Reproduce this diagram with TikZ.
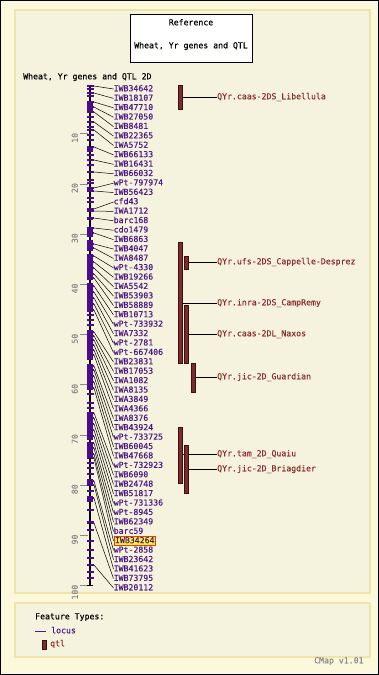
\documentclass[tikz,border=0pt]{standalone}
\usepackage{fontspec}
\setmonofont[FakeBold=0.35]{DejaVu Sans Mono}
\definecolor{outerbg}{HTML}{FBF8DC}
\definecolor{panelbg}{HTML}{F5F3DE}
\definecolor{panelline}{HTML}{EEE6A8}
\definecolor{locuscol}{HTML}{4B1A86}
\definecolor{blockcol}{HTML}{4B0C8C}
\definecolor{qtltext}{HTML}{8B2E2E}
\definecolor{qtlfill}{HTML}{7B2C2C}
\definecolor{qtlline}{HTML}{3A1010}
\definecolor{scalecol}{HTML}{8A8A8A}
\definecolor{hlfill}{HTML}{FFF23A}
\definecolor{hlline}{HTML}{E04010}
\begin{document}
\begin{tikzpicture}[x=1pt,y=-1pt,
  txt/.style={font=\ttfamily\fontsize{8.2}{9}\selectfont, inner sep=0pt, text height=6pt, text depth=1.5pt},
  loclabel/.style={txt, text=locuscol, anchor=west},
  qtllabel/.style={txt, text=qtltext, anchor=west},
  qtlbar/.style={draw=qtlline, fill=qtlfill, line width=0.6pt, minimum width=3.6pt, inner sep=0pt, rectangle},
  conn/.style={black, line width=0.5pt},
  qconn/.style={black, line width=0.8pt},
  panel/.style={fill=panelbg, draw=panelline, line width=1.3pt},
  scaletick/.style={scalecol, line width=0.7pt},
  scalelab/.style={txt, text=scalecol, rotate=90, anchor=east},
  locmark/.style={fill=blockcol},
  lab49/.style={fill=hlfill, draw=hlline, line width=0.6pt, inner xsep=1.2pt, inner ysep=0.8pt},
]
\useasboundingbox (0,0) rectangle (379,675);
\fill[outerbg] (0,0) rectangle (379,675);
\draw[black, line width=1pt] (0.5,0.5) rectangle (378.5,674.5);

% panels
\draw[panel] (15,10) rectangle (370,593);
\draw[panel] (15,603) rectangle (370,657);

% title box
\node[draw=black, fill=white, line width=0.8pt, minimum width=122pt, minimum height=48pt, inner sep=0pt] (title) at (191,38) {};
\node[txt] (ttl1) at (191,23) {Reference};
\node[txt] (ttl2) at (191,46) {Wheat, Yr genes and QTL};

\node[txt, anchor=west] (maptitle) at (23,77) {Wheat, Yr genes and QTL 2D};

% scale
\foreach \c in {10,20,...,100} {
  \pgfmathsetmacro\yy{83.5+5.02*\c}
  \draw[scaletick] (80,\yy) -- (88,\yy);
  \node[scalelab] (s\c) at (75.5,\yy-1) {\c};
}

% connectors and labels
\foreach \i/\ly/\name in {1/86/IWB34642, 2/93/IWB18107, 3/102/IWB47710, 4/107/IWB27050,
  5/112/IWB8481, 6/122/IWB22365, 7/130/IWA5752, 8/147/IWB66133, 9/160/IWB16431,
  10/172/IWB66032, 11/188/wPt-797974, 12/191/IWB56423, 13/209/cfd43, 14/211/IWA1712,
  15/218/barc168, 16/228/cdo1479, 17/233/IWB6863, 18/244/IWB4047, 19/248/IWA8487,
  20/256/wPt-4330, 21/262/IWB19266, 22/268/IWA5542, 23/274/IWB53903, 24/278/IWB58889,
  25/286/IWB10713, 26/292/wPt-733932, 27/298/IWA7332, 28/304/wPt-2781, 29/310/wPt-667406,
  30/332/IWB23831, 31/336/IWB17053, 32/340/IWA1082, 33/345/IWA8135, 34/350/IWA3849,
  35/355/IWA4366, 36/366/IWA8376, 37/370/IWB43924, 38/376/wPt-733725, 39/382/IWB60045,
  40/388/IWB47668, 41/413/wPt-732923, 42/418/IWB6090, 43/424/IWB24748, 44/430/IWB51817,
  45/436/wPt-731336, 46/443/wPt-8945, 47/448/IWB62349, 48/454/barc59, 49/458/IWB34264,
  50/481/wPt-2858, 51/485/IWB23642, 52/498/IWB41623, 53/523/IWB73795, 54/565/IWB20112} {
  \pgfmathsetmacro\ty{89+9.415*(\i-1)}
  \coordinate (L\i) at (94,\ly);
  \node[loclabel, lab\i/.try] (T\i) at (113.5,\ty) {\name};
  \draw[conn] (L\i) -- (T\i.west);
  \fill[locmark] (86.5,\ly-0.9) rectangle (93.5,\ly+0.9);
}

% chromosome backbone
\draw[black, line width=2.2pt] (90,84.5) -- (90,585.5);
\draw[black, line width=0.8pt] (87,585.5) -- (93,585.5);

% dense locus blocks
\foreach \a/\b in {101/113, 147/152, 187/192, 208/212, 217/220, 227/237, 240/251,
  254/280, 283/312, 330/360, 364/390, 412/440, 442/458, 479/486, 496/502} {
  \fill[blockcol] (86.8,\a) rectangle (93.2,\b);
}
% individual locus ticks
\foreach \ly in {86, 89, 93, 96, 117, 122, 127, 130, 135, 140, 155, 160, 165, 172, 180, 183, 198, 202,
  315, 320, 325, 394, 403, 408, 463, 468, 474, 491, 510, 522, 530, 541, 550, 558, 565, 572, 578} {
  \fill[locmark] (86.5,\ly-0.9) rectangle (93.5,\ly+0.9);
}

% QTL bars
\node[qtlbar, minimum height=24pt] (Q1) at (180,97) {};
\node[qtlbar, minimum height=121pt] (Q3) at (180,302.5) {};
\node[qtlbar, minimum height=13pt] (Q2) at (186.5,262.5) {};
\node[qtlbar, minimum height=58pt] (Q4) at (186.5,334) {};
\node[qtlbar, minimum height=29pt] (Q5) at (193.5,377.5) {};
\node[qtlbar, minimum height=56pt] (Q6) at (180,455) {};

\node[qtllabel] (P1) at (217,97) {QYr.caas-2DS\_Libellula};
\node[qtllabel] (P2) at (217,262) {QYr.ufs-2DS\_Cappelle-Desprez};
\node[qtllabel] (P3) at (217,303) {QYr.inra-2DS\_CampRemy};
\node[qtllabel] (P4) at (217,334) {QYr.caas-2DL\_Naxos};
\node[qtllabel] (P5) at (217,377) {QYr.jic-2D\_Guardian};
\node[qtllabel] (P6) at (217,454) {QYr.tam\_2D\_Quaiu};
\node[qtllabel] (P7) at (217,469) {QYr.jic-2D\_Briagdier};

\draw[qconn] (Q1.east |- P1.west) -- (P1.west);
\draw[qconn] (Q2.east |- P2.west) -- (P2.west);
\draw[qconn] (Q3.east |- P3.west) -- (P3.west);
\draw[qconn] (Q4.east |- P4.west) -- (P4.west);
\draw[qconn] (Q5.east |- P5.west) -- (P5.west);
\draw[qconn] (Q6.east |- P6.west) -- (P6.west);
\node[qtlbar, minimum height=48pt] (Q7) at (186.5,469) {};
\draw[qconn] (Q7.east |- P7.west) -- (P7.west);

% legend
\node[txt, anchor=west] (ft) at (35,617) {Feature Types:};
\coordinate (lg1) at (35,631);
\coordinate (lg2) at (46,631);
\draw[locuscol, line width=0.9pt] (lg1) -- (lg2);
\node[loclabel] (lgl) at (51,631) {locus};
\node[qtlbar, minimum height=9pt] (lgq) at (44.5,644.5) {};
\node[qtllabel] (lgt) at (50,644) {qtl};

\node[txt, text=scalecol, anchor=west] (ver) at (314,661) {CMap v1.01};
\end{tikzpicture}
\end{document}
